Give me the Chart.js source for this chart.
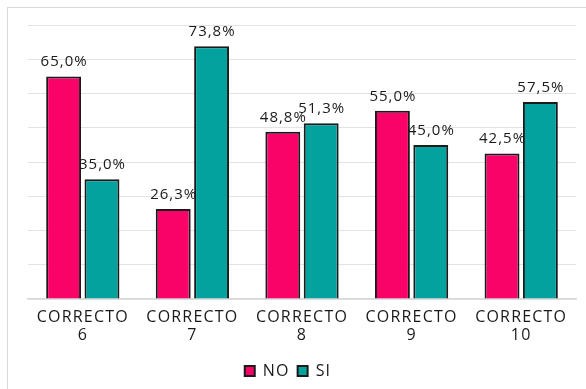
<!DOCTYPE html>
<html>
<head>
<meta charset="utf-8">
<script src="https://cdn.jsdelivr.net/npm/chart.js@4.4.1/dist/chart.umd.min.js"></script>
<style>
  html, body { margin: 0; padding: 0; background: #fff; }
  #wrap { position: relative; width: 586px; height: 389px; overflow: hidden; }
  #frame { position: absolute; left: 7px; top: 7px; width: 600px; height: 400px; border: 1.5px solid #d9d9d9; }
  #c { position: absolute; left: 0; top: 0; }
</style>
</head>
<body>
<div id="wrap">
  <div id="frame"></div>
  <canvas id="c" width="586" height="389"></canvas>
</div>
<script>
const categories = [['CORRECTO', '6'], ['CORRECTO', '7'], ['CORRECTO', '8'], ['CORRECTO', '9'], ['CORRECTO', '10']];
const noValues = [65.0, 26.3, 48.8, 55.0, 42.5];
const siValues = [35.0, 73.8, 51.3, 45.0, 57.5];

const FONT = '"Open Sans", "DejaVu Sans", sans-serif';

// letras un poco mas anchas, parecido a Gill Sans
const spacing = {
  id: 'spacing',
  beforeLayout(chart) { chart.ctx.letterSpacing = '1.2px'; },
  beforeDraw(chart) { chart.ctx.letterSpacing = '1.2px'; }
};

// etiquetas de valor encima de cada barra
const valueLabels = {
  id: 'valueLabels',
  afterDatasetsDraw(chart) {
    const ctx = chart.ctx;
    ctx.save();
    ctx.letterSpacing = '1px';
    ctx.font = '15px ' + FONT;
    ctx.fillStyle = '#1a1a1a';
    ctx.textAlign = 'center';
    ctx.textBaseline = 'alphabetic';
    chart.data.datasets.forEach((ds, i) => {
      chart.getDatasetMeta(i).data.forEach((bar, j) => {
        const txt = ds.data[j].toFixed(1).replace('.', ',') + '%';
        ctx.fillText(txt, bar.x + 0.5, bar.y - 10);
      });
    });
    ctx.restore();
  }
};

new Chart(document.getElementById('c'), {
  type: 'bar',
  data: {
    labels: categories,
    datasets: [
      {
        label: 'NO',
        data: noValues,
        backgroundColor: '#fa0369',
        borderColor: '#1a1a1a',
        borderWidth: 2,
        categoryPercentage: 0.70,
        barPercentage: 0.91
      },
      {
        label: 'SI',
        data: siValues,
        backgroundColor: '#03a29e',
        borderColor: '#1a1a1a',
        borderWidth: 2,
        categoryPercentage: 0.70,
        barPercentage: 0.91
      }
    ]
  },
  options: {
    responsive: false,
    animation: false,
    layout: { padding: { left: 0, right: 10, top: 25, bottom: 0 } },
    plugins: {
      legend: {
        position: 'bottom',
        labels: {
          boxWidth: 10,
          boxHeight: 10,
          padding: 8,
          color: '#1a1a1a',
          font: { size: 16, family: FONT }
        }
      },
      tooltip: { enabled: false }
    },
    scales: {
      x: {
        grid: { display: false, drawTicks: false },
        border: { color: '#d9d9d9', width: 1.5 },
        ticks: { color: '#1a1a1a', padding: 9, font: { size: 16, family: FONT, lineHeight: 1.15 } },
        afterFit: s => { s.height = 56; }
      },
      y: {
        min: 0,
        max: 80,
        ticks: { stepSize: 10, display: false },
        grid: { color: '#e3e3e3', drawTicks: false },
        border: { display: false },
        afterFit: s => { s.width = 28; }
      }
    }
  },
  plugins: [spacing, valueLabels]
});
</script>
</body>
</html>
